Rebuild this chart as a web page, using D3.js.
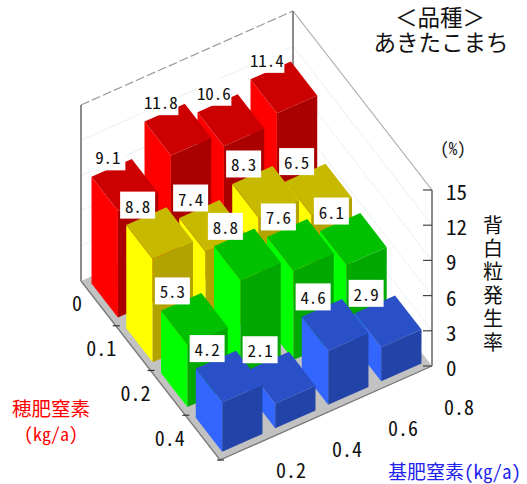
<!DOCTYPE html>
<html lang="ja">
<head>
<meta charset="utf-8">
<script src="https://cdn.jsdelivr.net/npm/d3@7"></script>
<style>
html,body{margin:0;padding:0;background:#fff;}
svg{display:block;}
text{font-family:"Noto Sans Mono CJK JP","Noto Sans CJK JP",sans-serif;fill:#111;}
</style>
</head>
<body>
<svg id="chart" width="527" height="484"></svg>
<script>
// Grain ratio by panicle nitrogen (rows) and basal nitrogen (columns)
const panicleN = ["0", "0.1", "0.2", "0.4"];
const basalN = ["0.2", "0.4", "0.6", "0.8"];
const rateTicks = [0, 3, 6, 9, 12, 15];
const row0 = [9.1, 11.8, 10.6, 11.4];
const row1 = [8.8, 7.4, 8.3, 6.5];
const row2 = [5.3, 8.8, 7.6, 6.1];
const row3 = [4.2, 2.1, 4.6, 2.9];
const rows = [row0, row1, row2, row3];
const faceColors = [
  {side: "#ff0000", top: "#cc0000", front: "#aa0000"},
  {side: "#ffff00", top: "#c6b900", front: "#b3a300"},
  {side: "#00ff00", top: "#00c000", front: "#00a800"},
  {side: "#3366ff", top: "#2a50c8", front: "#2244a8"}
];

const svg = d3.select("#chart");

// Oblique projection: rows run down-right, columns run up-right, height is vertical
const rowX = d3.scaleLinear().domain([0, 4]).range([0, 139]);
const rowY = d3.scaleLinear().domain([0, 4]).range([0, 179]);
const colX = d3.scaleLinear().domain([0, 4]).range([0, 212]);
const colY = d3.scaleLinear().domain([0, 4]).range([0, -94]);
const zPx = d3.scaleLinear().domain([0, 15]).range([0, 176]);
const origin = [81, 281];
const project = (r, c, z = 0) => [
  origin[0] + rowX(r) + colX(c),
  origin[1] + rowY(r) + colY(c) - zPx(z)
];
const poly = pts => "M" + pts.map(p => p.join(",")).join("L") + "Z";

// Walls and floor
const walls = svg.append("g");
rateTicks.slice(1, -1).forEach(t => {
  walls.append("path")
    .attr("d", d3.line()([project(0,0,t), project(0,4,t), project(4,4,t)]))
    .attr("fill", "none").attr("stroke", "#e9f1f1").attr("stroke-width", 1);
});
walls.append("path")
  .attr("d", d3.line()([project(0,0,15), project(0,4,15)]))
  .attr("fill", "none").attr("stroke", "#999").attr("stroke-width", 1.2).attr("stroke-dasharray", "9 3");
walls.append("path")
  .attr("d", d3.line()([project(0,4,15), project(4,4,15)]))
  .attr("fill", "none").attr("stroke", "#aaa").attr("stroke-width", 1.2);
[[0,0],[0,4],[4,4]].forEach(([r,c]) => {
  walls.append("path")
    .attr("d", d3.line()([project(r,c,0), project(r,c,15)]))
    .attr("stroke", "#666").attr("stroke-width", 1.5);
});
walls.append("path")
  .attr("d", poly([project(0,0), project(0,4), project(4,4), project(4,0)]))
  .attr("fill", "#c2c2c2");
walls.append("path")
  .attr("d", d3.line()([project(0,0), project(4,0), project(4,4)]))
  .attr("fill", "none").attr("stroke", "#777").attr("stroke-width", 1.3);

// Axis tick marks
panicleN.forEach((_, i) => {
  const [x, y] = project(i + 1, 0);
  walls.append("line").attr("x1", x - 3).attr("x2", x + 4).attr("y1", y).attr("y2", y)
    .attr("stroke", "#333").attr("stroke-width", 1.2);
});
rateTicks.forEach(t => {
  const [x, y] = project(4, 4, t);
  walls.append("line").attr("x1", x - 9).attr("x2", x).attr("y1", y).attr("y2", y)
    .attr("stroke", "#444").attr("stroke-width", 1.2);
});

// Bars, painted from the far corner forwards
const gap = 0.12;
const bars = svg.append("g");
rows.forEach((values, r) => {
  const colour = faceColors[r];
  d3.range(values.length - 1, -1, -1).forEach(c => {
    const v = values[c];
    const r0 = r + gap, r1 = r + 1 - gap, c0 = c + gap, c1 = c + 1 - gap;
    const g = bars.append("g");
    g.append("path").attr("fill", colour.side)
      .attr("d", poly([project(r0,c0), project(r1,c0), project(r1,c0,v), project(r0,c0,v)]));
    g.append("path").attr("fill", colour.front)
      .attr("d", poly([project(r1,c0), project(r1,c1), project(r1,c1,v), project(r1,c0,v)]));
    g.append("path").attr("fill", colour.top)
      .attr("d", poly([project(r0,c0,v), project(r1,c0,v), project(r1,c1,v), project(r0,c1,v)]));
  });
});

// Value labels on white plates, offset from the centre of each bar top
const labels = svg.append("g");
rows.forEach((values, r) => {
  values.forEach((v, c) => {
    const [cx, cy] = project(r + 0.5, c + 0.5, v);
    const x = cx - (r === 0 ? 17 : 22);
    const y = cy - 28;
    labels.append("rect").attr("x", x - 17.5).attr("y", y - 13.5)
      .attr("width", 35).attr("height", 27).attr("fill", "#fff");
    labels.append("text").attr("x", x).attr("y", y)
      .attr("text-anchor", "middle").attr("dominant-baseline", "central")
      .attr("font-size", 17).text(v.toFixed(1));
  });
});

// Tick labels
const rowLabelX = d3.scaleLinear().domain([0, 4]).range([82, 219]);
const rowLabelY = d3.scaleLinear().domain([0, 4]).range([302, 482]);
panicleN.forEach((t, i) => {
  svg.append("text").attr("x", rowLabelX(i)).attr("y", rowLabelY(i))
    .attr("text-anchor", "end").attr("dominant-baseline", "central")
    .attr("font-size", 20).text(t);
});
const colLabelX = d3.scaleLinear().domain([0, 3]).range([291, 459]);
const colLabelY = d3.scaleLinear().domain([0, 3]).range([469, 406]);
basalN.forEach((t, i) => {
  svg.append("text").attr("x", colLabelX(i)).attr("y", colLabelY(i))
    .attr("text-anchor", "middle").attr("dominant-baseline", "central")
    .attr("font-size", 20).text(t);
});
rateTicks.forEach(t => {
  svg.append("text").attr("x", 446).attr("y", project(4, 4, t)[1] + 1)
    .attr("dominant-baseline", "central").attr("font-size", 21).text(t);
});

// Titles and axis names
const note = (s, x, y, size, fill, anchor = "middle") =>
  svg.append("text").attr("x", x).attr("y", y).attr("text-anchor", anchor)
    .attr("dominant-baseline", "central").attr("font-size", size)
    .style("fill", fill).text(s);

const title = svg.append("text").attr("text-anchor", "middle")
  .attr("font-size", 22.5);
title.append("tspan").attr("x", 440).attr("y", 26).text("＜品種＞");
title.append("tspan").attr("x", 441).attr("y", 51).text("あきたこまち");

note("(%)", 453, 147, 17, "#111");

// One vertical text run for the rate axis name
svg.append("text")
  .attr("transform", "translate(493,215)")
  .style("writing-mode", "vertical-rl")
  .style("letter-spacing", "3.4px")
  .attr("dominant-baseline", "central")
  .attr("font-size", 20)
  .text("背白粒発生率");

note("穂肥窒素", 51, 407, 19.5, "#ff0000");
note("(kg/a)", 51, 433, 18, "#ff0000");
note("基肥窒素(kg/a)", 521, 470, 19, "#2222ee", "end");
</script>
</body>
</html>
